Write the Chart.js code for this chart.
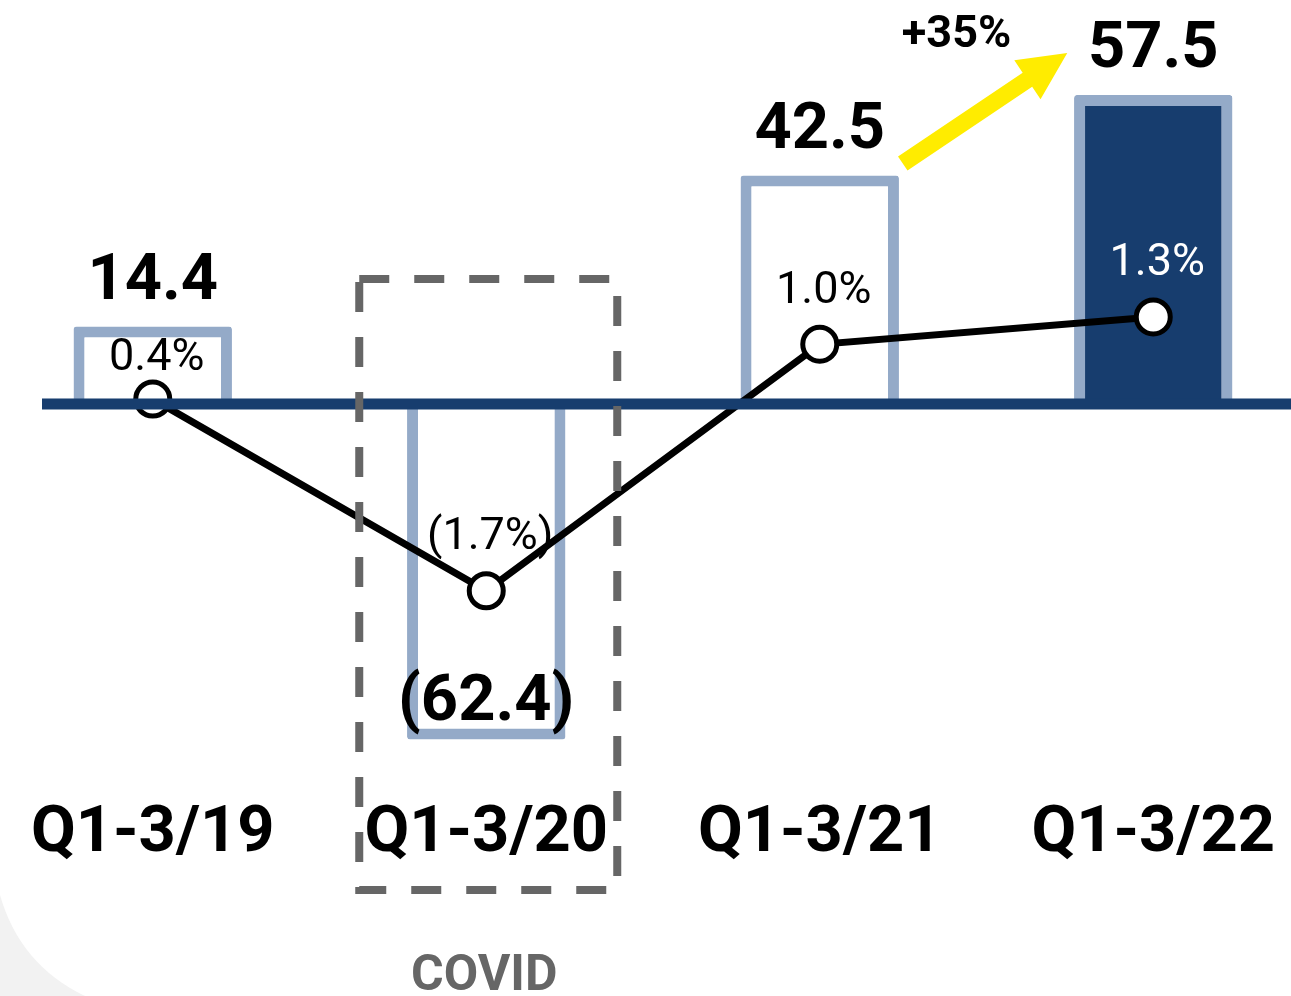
<!DOCTYPE html>
<html>
<head>
<meta charset="utf-8">
<title>Profit Q1-3</title>
<script src="https://cdn.jsdelivr.net/npm/chart.js@4.4.0/dist/chart.umd.min.js"></script>
<style>
  html, body { margin: 0; padding: 0; background: #fff; overflow: hidden; }
  /* chart area is a bit wider than the window so the outer columns sit near the edges */
  #wrap { position: absolute; left: -14px; top: 0; width: 1334px; height: 996px; }
</style>
</head>
<body>
<div id="wrap"><canvas id="profitChart"></canvas></div>
<script>
// data
const categories = ['Q1-3/19', 'Q1-3/20', 'Q1-3/21', 'Q1-3/22'];
const profit = [14.4, -62.4, 42.5, 57.5];
const margin = [0.4, -1.7, 1.0, 1.3];

const NAVY = '#173d6e';
const LIGHT_BLUE = '#94aac8';
const SHIFT = 14; // canvas is moved 14px left of the page
const FONT = 'Roboto';

const barFill = ['#ffffff', '#ffffff', '#ffffff', NAVY];
const pctLift = [29, 42, 41, 42]; // baseline of the % label above its point

function fmtNum(v) {
  return v < 0 ? '(' + Math.abs(v).toFixed(1) + ')' : v.toFixed(1);
}
function fmtPct(v) {
  return v < 0 ? '(' + Math.abs(v).toFixed(1) + '%)' : v.toFixed(1) + '%';
}

// white page with a soft grey swoosh in the lower left corner
const backgroundPlugin = {
  id: 'pageBackground',
  beforeDraw(chart) {
    const ctx = chart.ctx;
    ctx.save();
    ctx.fillStyle = '#ffffff';
    ctx.fillRect(0, 0, chart.width, chart.height);
    ctx.fillStyle = '#f2f2f2';
    ctx.beginPath();
    ctx.moveTo(SHIFT, 895);
    ctx.quadraticCurveTo(SHIFT + 20, 965, SHIFT + 85, chart.height);
    ctx.lineTo(SHIFT, chart.height);
    ctx.closePath();
    ctx.fill();
    ctx.restore();
  }
};

// zero line, covid box, growth arrow and all the text
const overlayPlugin = {
  id: 'overlay',
  afterDatasetsDraw(chart) {
    const ctx = chart.ctx;
    const x = chart.scales.x, y = chart.scales.y, y1 = chart.scales.y1;
    const area = chart.chartArea;
    const zero = y.getPixelForValue(0);
    ctx.save();

    // zero line
    ctx.fillStyle = NAVY;
    ctx.fillRect(42 + SHIFT, zero - 5.5, chart.width, 11);

    // dashed box around the 2020 column
    const cx = x.getPixelForValue(1) + 2;
    const boxTop = zero - 125;
    const boxBottom = area.bottom + 94;
    ctx.strokeStyle = '#666666';
    ctx.lineWidth = 8;
    ctx.setLineDash([30, 25]);
    ctx.strokeRect(cx - 129, boxTop, 258, boxBottom - boxTop);
    ctx.setLineDash([]);

    // yellow growth arrow from 2021 to 2022
    const x3 = x.getPixelForValue(2), x4 = x.getPixelForValue(3);
    const tail = { x: x3 + 83, y: y.getPixelForValue(profit[2]) - 12 };
    const tip = { x: x4 - 86, y: y.getPixelForValue(profit[3]) - 42 };
    const len = Math.hypot(tip.x - tail.x, tip.y - tail.y);
    ctx.save();
    ctx.translate(tail.x, tail.y);
    ctx.rotate(Math.atan2(tip.y - tail.y, tip.x - tail.x));
    ctx.fillStyle = '#ffec00';
    ctx.beginPath();
    ctx.moveTo(0, -8.5);
    ctx.lineTo(len - 48, -8.5);
    ctx.lineTo(len - 48, -23.5);
    ctx.lineTo(len, 0);
    ctx.lineTo(len - 48, 23.5);
    ctx.lineTo(len - 48, 8.5);
    ctx.lineTo(0, 8.5);
    ctx.closePath();
    ctx.fill();
    ctx.restore();

    ctx.textAlign = 'center';
    ctx.textBaseline = 'alphabetic';

    // growth label
    const growth = Math.round((profit[3] / profit[2] - 1) * 100);
    ctx.fillStyle = '#000';
    ctx.font = 'bold 45px ' + FONT;
    ctx.fillText('+' + growth + '%', (x3 + x4) / 2 - 30, y.getPixelForValue(profit[3]) - 48);

    // bar values
    ctx.font = 'bold 65px ' + FONT;
    profit.forEach((v, i) => {
      const py = y.getPixelForValue(v);
      ctx.fillText(fmtNum(v), x.getPixelForValue(i), v >= 0 ? py - 28 : py - 19);
    });

    // margin values
    ctx.font = '45px ' + FONT;
    margin.forEach((v, i) => {
      ctx.fillStyle = barFill[i] === NAVY ? '#fff' : '#000';
      ctx.fillText(fmtPct(v), x.getPixelForValue(i) + 4, y1.getPixelForValue(v) - pctLift[i]);
    });

    // category labels
    ctx.fillStyle = '#000';
    ctx.font = 'bold 65px ' + FONT;
    categories.forEach((c, i) => {
      ctx.fillText(c, x.getPixelForValue(i), area.bottom + 55);
    });

    ctx.fillStyle = '#666666';
    ctx.font = 'bold 50px ' + FONT;
    ctx.fillText('COVID', cx - 4, 990);

    ctx.restore();
  }
};

// config
const config = {
  type: 'bar',
  data: {
    labels: categories,
    datasets: [
      {
        type: 'line',
        label: 'Margin',
        data: margin,
        yAxisID: 'y1',
        order: 0,
        borderColor: '#000',
        borderWidth: 7,
        pointRadius: 17,
        pointBorderWidth: 5,
        pointBackgroundColor: '#fff',
        pointBorderColor: '#000',
        tension: 0
      },
      {
        type: 'bar',
        label: 'Profit',
        data: profit,
        yAxisID: 'y',
        order: 1,
        backgroundColor: barFill,
        borderColor: LIGHT_BLUE,
        borderWidth: 11,
        borderSkipped: 'start',
        borderRadius: 3,
        categoryPercentage: 1,
        barPercentage: 0.475
      }
    ]
  },
  options: {
    responsive: true,
    maintainAspectRatio: false,
    animation: false,
    layout: { autoPadding: false, padding: { top: 0, bottom: 200, left: 0, right: 0 } },
    scales: {
      x: { display: false },
      y: { display: false, min: -72.93, max: 75.16 },
      y1: { display: false, min: -3.947, max: 4.771 }
    },
    plugins: {
      legend: { display: false },
      tooltip: { enabled: false }
    }
  },
  plugins: [backgroundPlugin, overlayPlugin]
};

const myChart = new Chart(document.getElementById('profitChart'), config);
</script>
</body>
</html>
